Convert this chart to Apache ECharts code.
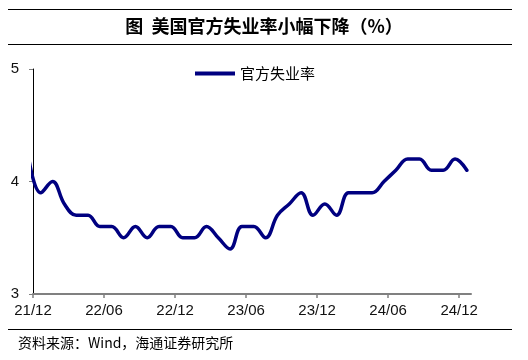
<!DOCTYPE html>
<html>
<head>
<meta charset="utf-8">
<script src="https://cdn.jsdelivr.net/npm/echarts@6/dist/echarts.min.js"></script>
<style>html,body{margin:0;padding:0;background:#fff}#c{width:528px;height:360px}</style>
</head>
<body>
<div id="c"></div>
<script>
// Monthly US unemployment rate, 21/11 .. 24/12 (first point lies just left of the axis start and is clipped)
var months = ['21/11','21/12','22/01','22/02','22/03','22/04','22/05','22/06','22/07','22/08','22/09','22/10','22/11','22/12',
  '23/01','23/02','23/03','23/04','23/05','23/06','23/07','23/08','23/09','23/10','23/11','23/12',
  '24/01','24/02','24/03','24/04','24/05','24/06','24/07','24/08','24/09','24/10','24/11','24/12'];
var unemployment = [4.2,3.9,4.0,3.8,3.7,3.7,3.6,3.6,3.5,3.6,3.5,3.6,3.6,3.5,
  3.5,3.6,3.5,3.4,3.6,3.6,3.5,3.7,3.8,3.9,3.7,3.8,
  3.7,3.9,3.9,3.9,4.0,4.1,4.2,4.2,4.1,4.1,4.2,4.1];
var tickLabels = ['21/12','22/06','22/12','23/06','23/12','24/06','24/12'];
var yTicks = [3,4,5];
var seriesName = '官方失业率';

// axis position: months counted from 21/12; each reading sits late in its month
var startMonth = 1, inMonth = 0.65;
var points = unemployment.map(function(v,i){ return [i - startMonth + inMonth, v]; });
var tickPos = tickLabels.map(function(_,k){ return k*6; });

var chart = echarts.init(document.getElementById('c'), null, {renderer:'canvas'});
var CJK = '"Noto Sans CJK SC", sans-serif';
var LAT = '"Liberation Sans", Arial, sans-serif';
chart.setOption({
  animation:false,
  backgroundColor:'#fff',
  title:{
    text:'图  美国官方失业率小幅下降（%）',
    left:'center', top:17, padding:0,
    textStyle:{fontFamily:CJK, fontSize:18, fontWeight:'bold', color:'#000'}
  },
  legend:{
    data:[{name:seriesName, icon:'rect'}],
    left:195, top:66, padding:0,
    itemWidth:40, itemHeight:4,
    textStyle:{fontFamily:CJK, fontSize:15, color:'#000'}
  },
  grid:{left:33, right:57, top:69, bottom:66, containLabel:false},
  xAxis:{
    type:'value', min:0, max:37,
    axisLine:{show:true, lineStyle:{color:'#808080', width:2}},
    axisTick:{show:true, length:4, lineStyle:{color:'#808080', width:1.5}, customValues:tickPos},
    axisLabel:{customValues:tickPos, margin:9, fontFamily:LAT, fontSize:15, color:'#111',
      formatter:function(v){ var k=Math.round(v/6); return tickLabels[k]||''; }},
    splitLine:{show:false}
  },
  yAxis:{
    type:'value', min:yTicks[0], max:yTicks[yTicks.length-1], interval:1,
    axisLine:{show:true, lineStyle:{color:'#000', width:1}},
    axisTick:{show:true, length:4, lineStyle:{color:'#808080'}},
    axisLabel:{margin:14, fontFamily:LAT, fontSize:15, color:'#111'},
    splitLine:{show:false}
  },
  series:[{
    name:seriesName, type:'line', data:points, smooth:0.4, smoothMonotone:null, clip:true,
    showSymbol:false, symbol:'none',
    lineStyle:{color:'#000080', width:3.5, cap:'round', join:'round'},
    itemStyle:{color:'#000080'}
  }],
  graphic:[
    {type:'line', shape:{x1:8,y1:9.5,x2:512,y2:9.5}, style:{stroke:'#000', lineWidth:1}},
    {type:'line', shape:{x1:8,y1:44.5,x2:512,y2:44.5}, style:{stroke:'#000', lineWidth:1}},
    {type:'line', shape:{x1:8,y1:329.5,x2:512,y2:329.5}, style:{stroke:'#000', lineWidth:1}},
    {type:'text', x:18, y:343, style:{text:'资料来源：Wind，海通证券研究所', fontFamily:CJK, fontSize:14, fill:'#000', textVerticalAlign:'middle'}}
  ]
});
</script>
</body>
</html>
